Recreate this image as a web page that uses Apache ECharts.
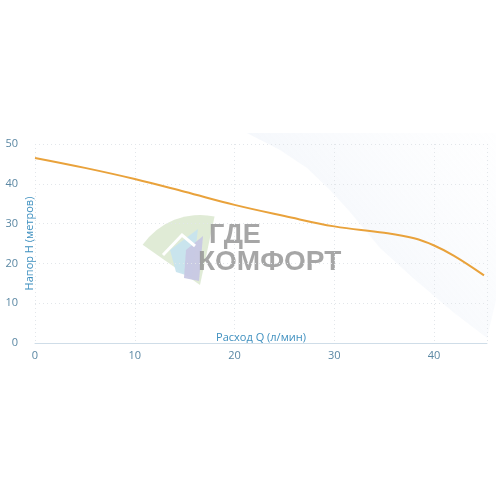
<!DOCTYPE html>
<html><head><meta charset="utf-8">
<script src="https://cdn.jsdelivr.net/npm/echarts@6/dist/echarts.min.js"></script>
<style>html,body{margin:0;padding:0;background:#fff}#c{width:496px;height:496px}</style>
</head><body><div id="c"></div>
<script>
const flowQ = [0, 5, 10, 15, 20, 25, 30, 35, 38, 40, 42, 45];
const headH = [46.5, 44.0, 41.2, 38.0, 34.7, 31.9, 29.3, 27.7, 26.3, 24.5, 21.9, 17.0];
const xTicks = [0, 10, 20, 30, 40];
const yTicks = [0, 10, 20, 30, 40, 50];
const xName = 'Расход Q (л/мин)';
const yName = 'Напор H (метров)';
const wmTop = 'ГДЕ';
const wmBottom = 'КОМФОРТ';

const chart = echarts.init(document.getElementById('c'));
const labelColor = '#5a87a3';
const nameColor = '#3d8fbf';
const edge = [[247,133],[280,150],[307,168],[330,190],[350,212],[380,248],[413,278],[453,312],[487,338]];
const outer = [[496,300],[496,240],[496,180],[496,133],[330,133]];
chart.setOption({
  animation: false,
  grid: {left: 35, right: 9, top: 144, bottom: 153, containLabel: false, outerBoundsMode: 'none'},
  graphic: [
    {type: 'polygon', z: -10, silent: true,
     shape: {points: edge.concat(outer)},
     style: {fill: new echarts.graphic.LinearGradient(0,1,1,0,[{offset:0,color:'rgba(190,208,232,0.35)'},{offset:0.45,color:'rgba(215,226,242,0.22)'},{offset:1,color:'rgba(240,244,250,0.08)'}])}},
    {type: 'sector', z: -5, silent: true, shape: {cx: 200, cy: 285, r: 70, r0: 0, startAngle: -145*Math.PI/180, endAngle: -78*Math.PI/180},
     style: {fill: 'rgba(214,228,200,0.75)'}},
    {type: 'polygon', z: -4, silent: true, shape: {points: [[170,250],[198,229],[192,277],[176,272]]},
     style: {fill: 'rgba(200,228,238,0.95)'}},
    {type: 'polygon', z: -3, silent: true, shape: {points: [[186,250],[203,236],[199,281],[184,278]]},
     style: {fill: 'rgba(200,200,228,0.95)'}},
    {type: 'polyline', z: -2, silent: true, shape: {points: [[163,255],[182,235],[195,246]]},
     style: {stroke: '#ffffff', lineWidth: 3, fill: null}},
    {type: 'text', z: -1, silent: true, left: 209, top: 222,
     style: {text: wmTop, fill: 'rgba(150,150,150,0.85)', font: 'bold 27px "Liberation Sans", Arial, sans-serif'}},
    {type: 'text', z: -1, silent: true, left: 198, top: 248,
     style: {text: wmBottom, fill: 'rgba(150,150,150,0.85)', font: 'bold 28px "Liberation Sans", Arial, sans-serif'}}
  ],
  xAxis: {
    type: 'value', min: 0, max: 45.3, interval: 10,
    name: xName, nameLocation: 'middle', nameGap: -11, nameMoveOverlap: false,
    nameTextStyle: {color: nameColor, fontSize: 11, fontFamily: 'Open Sans'},
    axisLine: {show: true, lineStyle: {color: '#cfdde8', width: 1}},
    axisTick: {show: false},
    axisLabel: {color: labelColor, fontSize: 11, fontFamily: 'Open Sans', margin: 7, customValues: xTicks},
    splitLine: {show: true, lineStyle: {color: '#e2e6ea', type: [1,3]}}
  },
  yAxis: {
    type: 'value', min: 0, max: 50, interval: 10,
    name: yName, nameLocation: 'middle', nameGap: 0, nameRotate: 90, nameMoveOverlap: false,
    nameTextStyle: {color: nameColor, fontSize: 11, fontFamily: 'Open Sans'},
    axisLine: {show: false}, axisTick: {show: false},
    axisLabel: {color: labelColor, fontSize: 11, fontFamily: 'Open Sans', margin: 17, customValues: yTicks},
    splitLine: {show: true, lineStyle: {color: '#e2e6ea', type: [1,3]}}
  },
  series: [{
    type: 'line', smooth: 0.4, symbol: 'none',
    data: flowQ.map((q, i) => [q, headH[i]]),
    lineStyle: {color: '#e9a23b', width: 2}
  }]
});
</script></body></html>
